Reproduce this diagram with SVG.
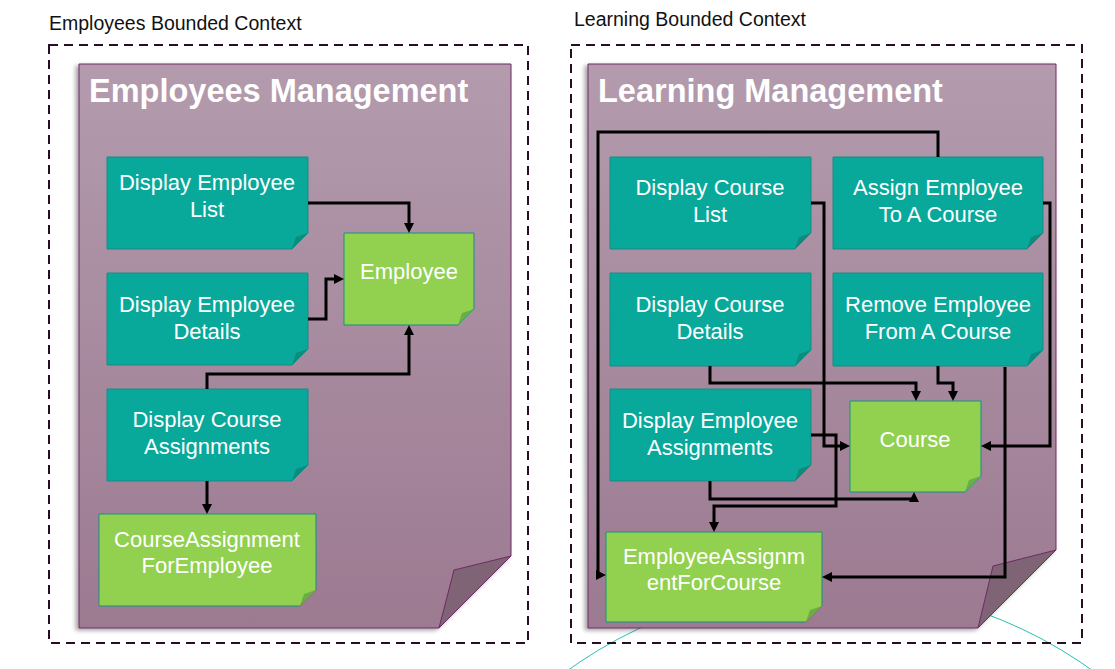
<svg xmlns="http://www.w3.org/2000/svg" width="1115" height="669" viewBox="0 0 1115 669">
<style>
.ctx{font-family:"Liberation Sans",Arial,sans-serif;font-size:19.5px;fill:#111}
.title{font-family:"Liberation Sans",Arial,sans-serif;font-size:32.5px;font-weight:bold;fill:#fff}
.lbl{font-family:"Liberation Sans",Arial,sans-serif;font-size:22px;fill:#fff;text-anchor:middle}
.dash{fill:none;stroke:#2a0d24;stroke-width:2;stroke-dasharray:9 6}
.panel{fill:url(#pg);stroke:#6e2a64;stroke-width:1;filter:url(#sh)}
.pflap{fill:#7f6476;stroke:#6e2a64;stroke-width:1}
.act{fill:#08a89b;stroke:#1a8b83;stroke-width:1}
.actf{fill:#0c8c7e}
.ent{fill:#92d050;stroke:#1a8f80;stroke-width:1}
.entf{fill:#6aae45}
.wire{fill:none;stroke:#000;stroke-width:3;marker-end:url(#arr)}
</style>
<defs>
<linearGradient id="pg" x1="0" y1="0" x2="0" y2="1">
<stop offset="0" stop-color="#b39bad"/>
<stop offset="1" stop-color="#9c7a91"/>
</linearGradient>
<filter id="sh" x="-5%" y="-5%" width="110%" height="110%">
<feDropShadow dx="-3" dy="2" stdDeviation="2" flood-color="#000" flood-opacity="0.35"/>
</filter>
<marker id="arr" markerUnits="userSpaceOnUse" markerWidth="10" markerHeight="10" viewBox="0 0 10 10" refX="6" refY="5" orient="auto">
<path d="M0,0 L10,5 L0,10 z" fill="#000"/>
</marker>
</defs>

<circle cx="830" cy="1036" r="450" fill="none" stroke="#2bbfb0" stroke-width="1"/>

<g id="employees-context">
<text class="ctx" x="49" y="30">Employees Bounded Context</text>
<rect class="dash" x="49" y="45" width="479" height="598"/>
<polygon class="panel" points="79,64 511,64 511,556 439,628 79,628"/>
<polygon class="pflap" points="511,556 454,570 439,628"/>
<text class="title" x="89" y="102">Employees Management</text>
</g>

<g id="learning-context">
<text class="ctx" x="574" y="26">Learning Bounded Context</text>
<rect class="dash" x="571" y="45" width="511" height="598"/>
<polygon class="panel" points="588,64 1056,64 1056,550 978,628 588,628"/>
<polygon class="pflap" points="1056,550 993,566 978,628"/>
<text class="title" x="598" y="102">Learning Management</text>
</g>

<g id="display-employee-list">
<polygon class="act" points="107,157 308,157 308,233 292,249 107,249"/>
<polygon class="actf" points="308,233 292,249 296,237"/>
<text class="lbl" x="207" y="190">Display Employee</text>
<text class="lbl" x="207" y="217">List</text>
</g>
<g id="display-employee-details">
<polygon class="act" points="107,273 308,273 308,349 292,365 107,365"/>
<polygon class="actf" points="308,349 292,365 296,353"/>
<text class="lbl" x="207" y="312">Display Employee</text>
<text class="lbl" x="207" y="339">Details</text>
</g>
<g id="display-course-assignments">
<polygon class="act" points="107,389 308,389 308,465 292,481 107,481"/>
<polygon class="actf" points="308,465 292,481 296,469"/>
<text class="lbl" x="207" y="427">Display Course</text>
<text class="lbl" x="207" y="454">Assignments</text>
</g>
<g id="employee">
<polygon class="ent" points="344,233 474,233 474,309 458,325 344,325"/>
<polygon class="entf" points="474,309 458,325 462,313"/>
<text class="lbl" x="409" y="279">Employee</text>
</g>
<g id="course-assignment-for-employee">
<polygon class="ent" points="99,514 316,514 316,590 300,606 99,606"/>
<polygon class="entf" points="316,590 300,606 304,594"/>
<text class="lbl" x="207" y="547">CourseAssignment</text>
<text class="lbl" x="207" y="573">ForEmployee</text>
</g>

<g id="display-course-list">
<polygon class="act" points="610,157 811,157 811,233 795,249 610,249"/>
<polygon class="actf" points="811,233 795,249 799,237"/>
<text class="lbl" x="710" y="195">Display Course</text>
<text class="lbl" x="710" y="222">List</text>
</g>
<g id="assign-employee">
<polygon class="act" points="833,157 1043,157 1043,233 1027,249 833,249"/>
<polygon class="actf" points="1043,233 1027,249 1031,237"/>
<text class="lbl" x="938" y="195">Assign Employee</text>
<text class="lbl" x="938" y="222">To A Course</text>
</g>
<g id="display-course-details">
<polygon class="act" points="610,273 811,273 811,350 795,366 610,366"/>
<polygon class="actf" points="811,350 795,366 799,354"/>
<text class="lbl" x="710" y="312">Display Course</text>
<text class="lbl" x="710" y="339">Details</text>
</g>
<g id="remove-employee">
<polygon class="act" points="833,273 1043,273 1043,350 1027,366 833,366"/>
<polygon class="actf" points="1043,350 1027,366 1031,354"/>
<text class="lbl" x="938" y="312">Remove Employee</text>
<text class="lbl" x="938" y="339">From A Course</text>
</g>
<g id="display-employee-assignments">
<polygon class="act" points="610,389 811,389 811,465 795,481 610,481"/>
<polygon class="actf" points="811,465 795,481 799,469"/>
<text class="lbl" x="710" y="428">Display Employee</text>
<text class="lbl" x="710" y="455">Assignments</text>
</g>
<g id="course">
<polygon class="ent" points="850,401 981,401 981,476 965,492 850,492"/>
<polygon class="entf" points="981,476 965,492 969,480"/>
<text class="lbl" x="915" y="447">Course</text>
</g>
<g id="employee-assignment-for-course">
<polygon class="ent" points="606,532 822,532 822,606 806,622 606,622"/>
<polygon class="entf" points="822,606 806,622 810,610"/>
<text class="lbl" x="714" y="564">EmployeeAssignm</text>
<text class="lbl" x="714" y="590">entForCourse</text>
</g>

<g id="connectors">
<path class="wire" d="M308,203 H409 V229"/>
<path class="wire" d="M308,319 H326 V279 H340"/>
<path class="wire" d="M207,389 V374 H409 V329"/>
<path class="wire" d="M207,481 V510"/>
<path class="wire" d="M938,157 V132 H598 V575 H602"/>
<path class="wire" d="M811,203 H824 V446 H846"/>
<path class="wire" d="M710,366 V383 H916 V397"/>
<path class="wire" d="M938,366 V383 H953 V397"/>
<path class="wire" d="M1043,203 H1050 V446 H985"/>
<path class="wire" d="M1005,367 V577 H826"/>
<path class="wire" d="M811,435 H836 V506 H714 V528"/>
<path class="wire" d="M710,481 V499 H914 V496"/>
</g>
</svg>
